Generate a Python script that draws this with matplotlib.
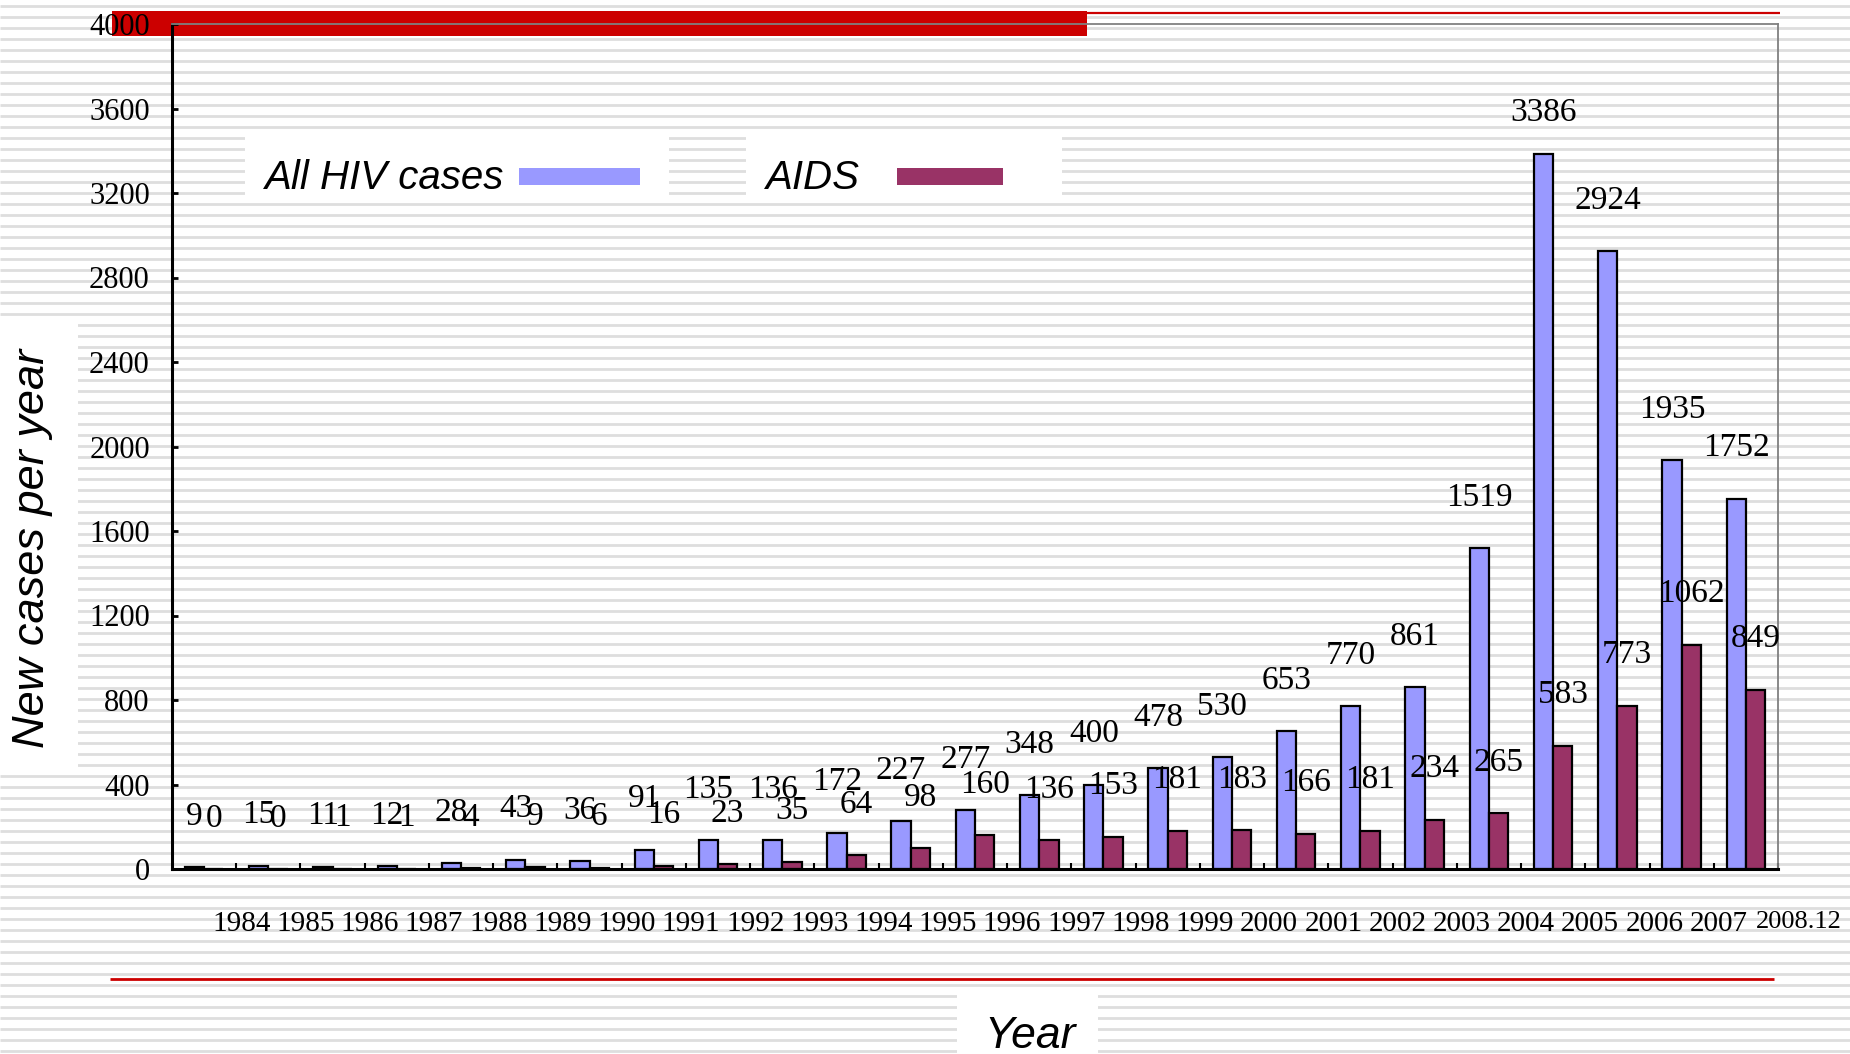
import numpy as np
import matplotlib
matplotlib.use("Agg")
import matplotlib.pyplot as plt
import matplotlib.transforms as mtransforms
from matplotlib import font_manager as fm
from matplotlib.patches import Rectangle

# ------------------ Data ------------------
years = [str(y) for y in range(1984, 2008)] + ["2008.12"]
hiv = [9, 15, 11, 12, 28, 43, 36, 91, 135, 136, 172, 227, 277, 348, 400,
       478, 530, 653, 770, 861, 1519, 3386, 2924, 1935, 1752]
aids = [0, 0, 1, 1, 4, 9, 6, 16, 23, 35, 64, 98, 160, 136, 153,
        181, 183, 166, 181, 234, 265, 583, 773, 1062, 849]
series_names = ["All HIV cases", "AIDS"]
series_colors = ["#9999FF", "#993366"]
yticks = list(range(0, 4001, 400))

# ------------------ Fonts ------------------
names = {f.name for f in fm.fontManager.ttflist}
if "Liberation Sans Narrow" in names:
    leg_font, leg_size = "Liberation Sans Narrow", 34
else:
    leg_font, leg_size = "Liberation Sans", 29
serif = "Liberation Serif"
sans = "Liberation Sans"

W, H = 1850, 1054
fig = plt.figure(figsize=(W / 100, H / 100), dpi=100, facecolor="white")

# ------------------ Background (slide decoration) ------------------
bg = fig.add_axes([0, 0, 1, 1], zorder=-1)
bg.set_xlim(0, W)
bg.set_ylim(H, 0)
bg.axis("off")
bg.hlines(np.arange(6, H, 11.0), 0, W, color="#dedede", lw=2.0, zorder=0)
bg.add_patch(Rectangle((112, 11), 975, 25, color="#CC0000", lw=0, zorder=2))
bg.plot([1087, 1780], [13, 13], color="#CC0000", lw=1.6, solid_capstyle="butt", zorder=2)
bg.plot([110, 1774], [979, 979], color="#CC0000", lw=2.0, solid_capstyle="butt", zorder=2)

# white boxes behind labels / legend
for box in [(0, 324, 78, 449), (957, 993, 141, 61), (245, 133, 424, 70), (746, 133, 316, 70)]:
    bg.add_patch(Rectangle(box[:2], box[2], box[3], color="white", lw=0, zorder=2))

# legend entries
bg.text(265, 189, series_names[0], fontsize=leg_size, family=leg_font,
        style="italic", va="baseline", ha="left", zorder=4)
bg.add_patch(Rectangle((519, 168), 121, 17, color=series_colors[0], lw=0, zorder=3))
bg.text(766, 189, series_names[1], fontsize=leg_size, family=leg_font,
        style="italic", va="baseline", ha="left", zorder=4)
bg.add_patch(Rectangle((897, 168), 106, 17, color=series_colors[1], lw=0, zorder=3))

# axis titles
bg.text(33, 548, "New cases per year", rotation=90, ha="center", va="center",
        fontsize=32.5, family=sans, style="italic", zorder=4)
bg.text(1030, 1048, "Year", ha="center", va="baseline",
        fontsize=32, family=sans, style="italic", zorder=4)

# ------------------ Bars ------------------
left, right, top, bottom = 172, 1778, 24, 869
ax = fig.add_axes([left / W, 1 - bottom / H, (right - left) / W, (bottom - top) / H])
ax.patch.set_visible(False)

x = np.arange(len(years))
w = 0.3
ax.bar(x - w / 2, hiv, w, color=series_colors[0], edgecolor="black", lw=1.6, zorder=2)
ax.bar(x + w / 2, aids, w, color=series_colors[1], edgecolor="black", lw=1.6, zorder=2)

# value labels ~240 units above the bar, kept under the top of the frame
for xs, vals in [(x - w / 2, hiv), (x + w / 2, aids)]:
    for xi, v in zip(xs, vals):
        ax.text(xi, min(v + 240, 3580), str(v), ha="center", va="center",
                fontsize=24, family=serif, zorder=3)

ax.set_xlim(-0.5, len(years) - 0.5)
ax.set_ylim(0, 4000)
ax.set_yticks(yticks)
ax.set_yticklabels([str(t) for t in yticks], family=serif, fontsize=22)
ax.set_xticks(x + 0.5)
ax.set_xticklabels(years, family=serif, fontsize=21)
ax.tick_params(axis="y", direction="in", length=4, width=2, pad=16)
ax.tick_params(axis="x", direction="in", length=4, width=1.5, pad=30)

# year labels sit a little right of the category boundary
shift = mtransforms.ScaledTranslation(5 / 100, 0, fig.dpi_scale_trans)
for lab in ax.get_xticklabels():
    lab.set_transform(lab.get_transform() + shift)
last = ax.get_xticklabels()[-1]
last.set_horizontalalignment("left")
last.set_fontsize(19)
last.set_transform(last.get_transform() + mtransforms.ScaledTranslation(-27 / 100, 0, fig.dpi_scale_trans))

for s in ["left", "bottom"]:
    ax.spines[s].set_color("black")
    ax.spines[s].set_linewidth(2.2)
for s in ["top", "right"]:
    ax.spines[s].set_color("#808080")
    ax.spines[s].set_linewidth(1.3)

fig.savefig("out.png", dpi=100, facecolor="white")
